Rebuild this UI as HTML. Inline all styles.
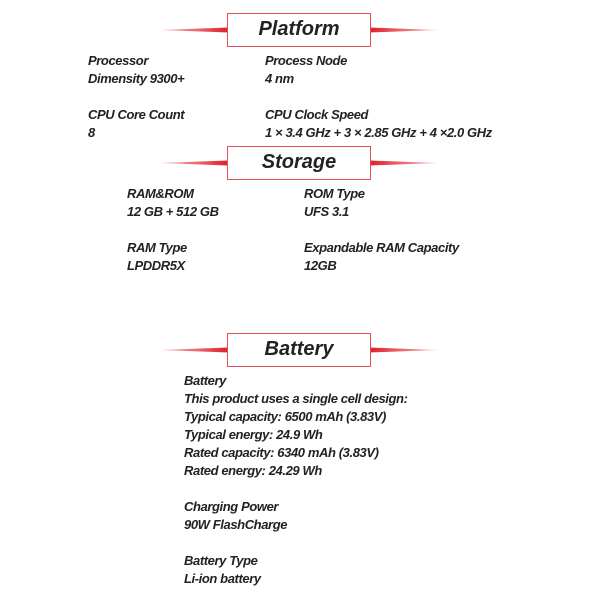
<!DOCTYPE html>
<html><head><meta charset="utf-8"><style>
body{margin:0;width:600px;height:600px;background:#fff;position:relative;overflow:hidden;font-family:"Liberation Sans",sans-serif;}
.t{position:absolute;font-style:italic;font-weight:bold;font-size:13px;color:#222;letter-spacing:-0.4px;line-height:18px;white-space:nowrap;}
.box{position:absolute;left:227px;width:144px;height:34px;border:1.5px solid #e0505a;box-sizing:border-box;background:#fff;text-align:center;font-style:italic;font-weight:bold;font-size:20px;line-height:31px;color:#222;}
svg{position:absolute;left:0;top:0}
</style></head><body>
<svg width="600" height="600">
<defs>
<linearGradient id="gl" x1="0" x2="1"><stop offset="0" stop-color="#e0202a" stop-opacity="0.3"/><stop offset="1" stop-color="#e0202a"/></linearGradient>
<linearGradient id="gr" x1="1" x2="0"><stop offset="0" stop-color="#e0202a" stop-opacity="0.3"/><stop offset="1" stop-color="#e0202a"/></linearGradient>
</defs>
<polygon points="160,30 228,27.5 228,32.5" fill="url(#gl)"/><polygon points="438,30 370,27.5 370,32.5" fill="url(#gr)"/>
<polygon points="160,163 228,160.5 228,165.5" fill="url(#gl)"/><polygon points="438,163 370,160.5 370,165.5" fill="url(#gr)"/>
<polygon points="160,350 228,347.5 228,352.5" fill="url(#gl)"/><polygon points="438,350 370,347.5 370,352.5" fill="url(#gr)"/>
</svg>
<div class="box" style="top:13px">Platform</div>
<div class="box" style="top:146px">Storage</div>
<div class="box" style="top:333px">Battery</div>

<div class="t" style="left:88px;top:52px">Processor<br>Dimensity 9300+</div>
<div class="t" style="left:265px;top:52px">Process Node<br>4 nm</div>
<div class="t" style="left:88px;top:106px">CPU Core Count<br>8</div>
<div class="t" style="left:265px;top:106px">CPU Clock Speed<br>1 × 3.4 GHz + 3 × 2.85 GHz + 4 ×2.0 GHz</div>

<div class="t" style="left:127px;top:185px">RAM&amp;ROM<br>12 GB + 512 GB</div>
<div class="t" style="left:304px;top:185px">ROM Type<br>UFS 3.1</div>
<div class="t" style="left:127px;top:239px">RAM Type<br>LPDDR5X</div>
<div class="t" style="left:304px;top:239px">Expandable RAM Capacity<br>12GB</div>

<div class="t" style="left:184px;top:372px">Battery<br>This product uses a single cell design:<br>Typical capacity: 6500 mAh (3.83V)<br>Typical energy: 24.9 Wh<br>Rated capacity: 6340 mAh (3.83V)<br>Rated energy: 24.29 Wh<br><br>Charging Power<br>90W FlashCharge<br><br>Battery Type<br>Li-ion battery</div>
</body></html>
